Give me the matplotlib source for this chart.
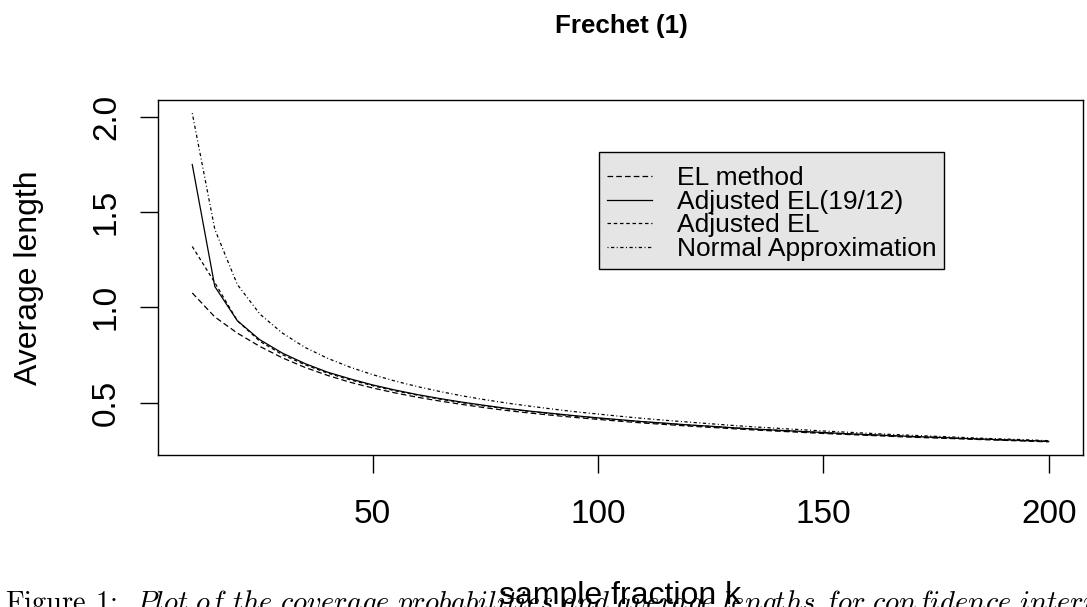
import numpy as np
import matplotlib
matplotlib.use("Agg")
import matplotlib.pyplot as plt

plt.rcParams['font.family'] = ['Liberation Sans', 'DejaVu Sans']
plt.rcParams['mathtext.fontset'] = 'cm'

# sample fraction k
k = [10, 15, 20, 25, 30, 35, 40, 45, 50, 55, 60, 65, 70, 75, 80, 85, 90, 95, 100,
     105, 110, 115, 120, 125, 130, 135, 140, 145, 150, 155, 160, 165, 170, 175, 180,
     185, 190, 195, 200]

# average lengths
el_method = [1.076, 0.950, 0.865, 0.795, 0.735, 0.685, 0.643, 0.607, 0.577, 0.551,
             0.528, 0.508, 0.490, 0.473, 0.458, 0.445, 0.433, 0.422, 0.412, 0.402,
             0.393, 0.385, 0.377, 0.370, 0.363, 0.356, 0.350, 0.344, 0.338, 0.333,
             0.328, 0.323, 0.318, 0.314, 0.310, 0.306, 0.302, 0.298, 0.294]
adj_el_1912 = [1.750, 1.110, 0.930, 0.830, 0.760, 0.705, 0.660, 0.625, 0.593, 0.566,
               0.542, 0.521, 0.502, 0.485, 0.469, 0.455, 0.443, 0.431, 0.420, 0.410,
               0.400, 0.392, 0.383, 0.376, 0.368, 0.361, 0.355, 0.349, 0.343, 0.337,
               0.332, 0.327, 0.322, 0.318, 0.313, 0.309, 0.305, 0.301, 0.297]
adj_el = [1.320, 1.130, 0.930, 0.822, 0.752, 0.699, 0.655, 0.620, 0.589, 0.562,
          0.539, 0.518, 0.499, 0.482, 0.467, 0.453, 0.441, 0.429, 0.418, 0.408,
          0.399, 0.390, 0.382, 0.375, 0.367, 0.360, 0.354, 0.348, 0.342, 0.336,
          0.331, 0.326, 0.321, 0.317, 0.312, 0.308, 0.304, 0.300, 0.296]
normal_approx = [2.020, 1.410, 1.120, 0.965, 0.865, 0.790, 0.733, 0.686, 0.647, 0.613,
                 0.584, 0.558, 0.535, 0.515, 0.497, 0.481, 0.466, 0.452, 0.440, 0.428,
                 0.417, 0.407, 0.398, 0.389, 0.380, 0.372, 0.365, 0.358, 0.351, 0.345,
                 0.339, 0.333, 0.328, 0.323, 0.318, 0.313, 0.309, 0.305, 0.300]

labels = ["EL method", "Adjusted EL(19/12)", "Adjusted EL", "Normal Approximation"]
x_ticks = [50, 100, 150, 200]
y_ticks = [0.5, 1.0, 1.5, 2.0]

W, H = 1087, 607
fig = plt.figure(figsize=(W / 100, H / 100), dpi=100)
ax = fig.add_axes([158 / W, 1 - 455 / H, (1083 - 158) / W, (455 - 100) / H])

lw = 0.9
ax.plot(k, el_method, color='black', lw=lw, linestyle=(0, (4.5, 2.5)), label=labels[0])
ax.plot(k, adj_el_1912, color='black', lw=lw, linestyle='-', label=labels[1])
ax.plot(k, adj_el, color='black', lw=lw, linestyle=(0, (2.8, 2.2)), label=labels[2])
ax.plot(k, normal_approx, color='black', lw=lw, linestyle=(0, (0.8, 2.0, 2.6, 2.0)),
        label=labels[3])

# R style 4% range extension
allv = np.concatenate([el_method, adj_el_1912, adj_el, normal_approx])
ylo, yhi = allv.min(), allv.max()
ax.set_ylim(ylo - 0.04 * (yhi - ylo), yhi + 0.04 * (yhi - ylo))
ax.set_xlim(min(k) - 0.04 * (max(k) - min(k)), max(k) + 0.04 * (max(k) - min(k)))

ax.set_xticks(x_ticks)
ax.set_xticklabels([str(t) for t in x_ticks])
ax.set_yticks(y_ticks)
ax.set_yticklabels(["%.1f" % t for t in y_ticks], rotation=90, va='center')
ax.tick_params(axis='both', length=13, width=1.0, labelsize=24)
ax.tick_params(axis='x', pad=19)
ax.tick_params(axis='y', pad=13)
for s in ax.spines.values():
    s.set_linewidth(1.0)

# blank tiny title just to push the rows down a bit inside the box
leg = ax.legend(loc='upper left', bbox_to_anchor=((599 - 158) / 925, (455 - 152) / 355),
                borderaxespad=0, fontsize=19, fancybox=False, framealpha=1,
                facecolor='#e5e5e5', edgecolor='black', handlelength=1.7,
                handletextpad=0.95, labelspacing=-0.02, borderpad=0.3,
                title=" ", title_fontsize=6)
leg.get_frame().set_linewidth(1.0)

fig.text(621 / W, 1 - 32.5 / H, "Frechet (1)", ha='center', va='baseline',
         fontsize=18.7, fontweight='bold')
fig.text(620.5 / W, 1 - 604 / H, "sample fraction k", ha='center', va='baseline',
         fontsize=23)
fig.text(29 / W, 1 - 277.5 / H, "Average length", ha='center', va='center',
         rotation=90, fontsize=23)

# caption of the page, cut by the bottom edge
fig.text(5 / W, -4 / H,
         r"Figure 1:  $\mathit{Plot\ of\ the\ coverage\ probabilities\ and\ average\ lengths\ for\ confidence\ intervals}$",
         ha='left', va='baseline', fontsize=20.6, family='cmr10')

fig.savefig("out.png", dpi=100)
